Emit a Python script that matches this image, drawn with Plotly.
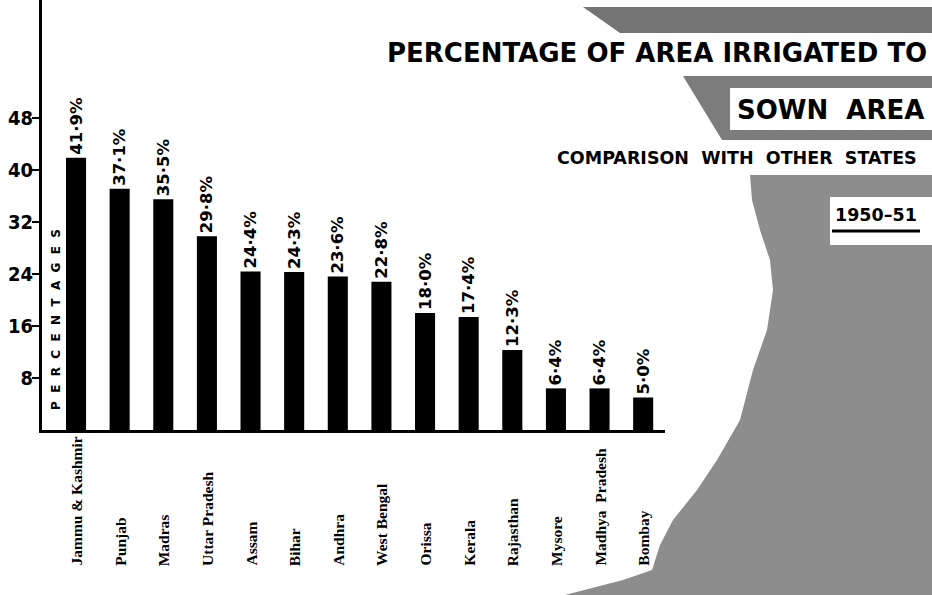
import plotly.graph_objects as go

states = ["Jammu & Kashmir", "Punjab", "Madras", "Uttar Pradesh", "Assam", "Bihar",
          "Andhra", "West Bengal", "Orissa", "Kerala", "Rajasthan", "Mysore",
          "Madhya  Pradesh", "Bombay"]
irrigated_pct = [41.9, 37.1, 35.5, 29.8, 24.4, 24.3, 23.6, 22.8, 18.0, 17.4, 12.3, 6.4, 6.4, 5.0]
y_ticks = [8, 16, 24, 32, 40, 48]

W, H = 932, 595
L, R, T, B = 42, 665, 0, 430


def px(x, y):
    return (x - L) / (R - L), (B - y) / (B - T)


def path(points):
    pts = [px(x, y) for x, y in points]
    return "M " + " L ".join(f"{a:.5f},{b:.5f}" for a, b in pts) + " Z"


def rect(x0, y0, x1, y1, color):
    a0, b0 = px(x0, y0)
    a1, b1 = px(x1, y1)
    return dict(type="rect", xref="paper", yref="paper", x0=a0, y0=b1, x1=a1, y1=b0,
                fillcolor=color, line=dict(width=0), layer="below")


GRAY = "#8d8d8d"
shapes = [
    dict(type="path", xref="paper", yref="paper", layer="below", fillcolor="#747474",
         line=dict(width=0), path=path([(583, 7), (932, 7), (932, 33), (620, 33)])),
    dict(type="path", xref="paper", yref="paper", layer="below", fillcolor="#7c7c7c",
         line=dict(width=0), path=path([(683, 76), (932, 76), (932, 140), (722, 140)])),
    rect(730, 88, 932, 130, "white"),
    dict(type="path", xref="paper", yref="paper", layer="below", fillcolor=GRAY,
         line=dict(width=0),
         path=path([(750, 175), (932, 175), (932, 595), (565, 595), (623, 580), (652, 570),
                    (660, 545), (673, 520), (697, 490), (717, 460), (740, 420), (753, 370),
                    (767, 330), (773, 290), (770, 260), (760, 230), (752, 200)])),
    rect(830, 197, 932, 245, "white"),
]
# underline of the year
ux0, uy = px(832, 231)
ux1, _ = px(920, 231)
shapes.append(dict(type="line", xref="paper", yref="paper", x0=ux0, x1=ux1, y0=uy, y1=uy,
                   line=dict(color="black", width=3)))

labels = [f"{v:.1f}".replace(".", "·") + "%" for v in irrigated_pct]

fig = go.Figure(go.Bar(
    x=list(range(len(states))), y=irrigated_pct, width=0.46,
    marker=dict(color="black", line=dict(width=0)),
    text=labels, textposition="outside", textangle=-90, constraintext="none",
    cliponaxis=False, hoverinfo="skip",
    textfont=dict(family="DejaVu Sans", size=16.5, color="black", weight="bold"),
))

annotations = []
for i, s in enumerate(states):
    annotations.append(dict(
        x=i, xref="x", y=px(0, 568)[1], yref="paper", text=s, textangle=-90,
        showarrow=False, xanchor="center", yanchor="bottom", bgcolor="white",
        font=dict(family="Liberation Serif", size=15.5, color="black", weight="bold")))


def ann(text, x, y, size, anchor="right", family="DejaVu Sans"):
    a, b = px(x, y)
    return dict(x=a, y=b, xref="paper", yref="paper", text=text, showarrow=False,
                xanchor=anchor, yanchor="middle",
                font=dict(family=family, size=size, color="black", weight="bold"))


annotations += [
    ann("PERCENTAGE OF AREA IRRIGATED TO", 929, 53, 26),
    ann("SOWN  AREA", 926, 110, 26),
    ann("COMPARISON  WITH  OTHER  STATES", 919, 158, 17.5),
    ann("1950–51", 919, 215, 17.5),
]
a, b = px(56, 320)
annotations.append(dict(x=a, y=b, xref="paper", yref="paper",
                        text="P  E  R  C  E  N  T  A  G  E  S", textangle=-90, showarrow=False,
                        xanchor="center", yanchor="middle",
                        font=dict(family="DejaVu Sans", size=12, color="black", weight="bold")))

fig.update_layout(
    width=W, height=H,
    margin=dict(l=L, r=W - R, t=T, b=H - B, pad=0),
    paper_bgcolor="white", plot_bgcolor="rgba(0,0,0,0)",
    showlegend=False, shapes=shapes, annotations=annotations,
    xaxis=dict(range=[-0.78, 13.5], showgrid=False, zeroline=False, showticklabels=False,
               ticks="", showline=True, linecolor="black", linewidth=3),
    yaxis=dict(range=[0, 66.15], tickvals=y_ticks, ticktext=[str(t) for t in y_ticks],
               showgrid=False, zeroline=False, showline=True, linecolor="black", linewidth=3,
               ticks="outside", ticklen=7, tickwidth=2, tickcolor="black",
               ticklabelstandoff=-5,
               tickfont=dict(family="DejaVu Sans Condensed", size=20, color="black", weight="bold")),
)

fig.write_html("out.html", config={"displayModeBar": False},
               post_script="document.body.style.margin='0';document.body.style.overflow='hidden';")
